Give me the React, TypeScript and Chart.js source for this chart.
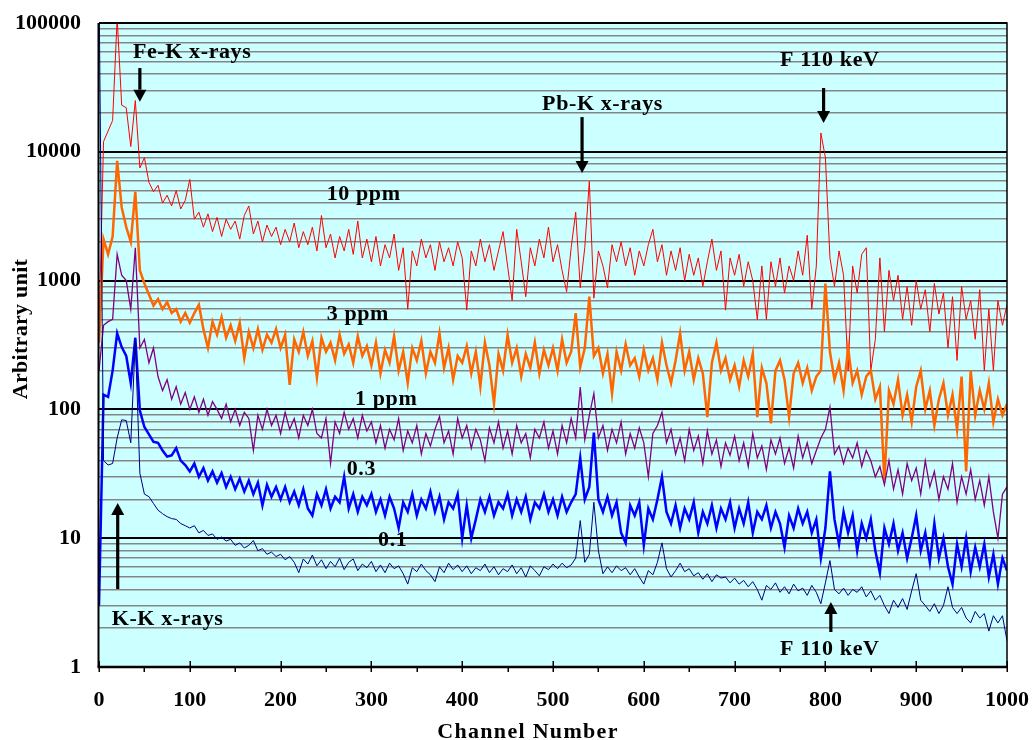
import { useEffect, useRef } from 'react';
import { Chart, registerables } from 'chart.js';

Chart.register(...registerables);

const FONT = '"Liberation Serif", "Times New Roman", serif';

// channel numbers (x categories), every 5th channel
const channels = Array.from({ length: 201 }, (_, i) => i * 5);

const ppm10 = [
  400, 12000, 14500, 17500, 110000, 23000, 22000, 11000, 25000, 7500, 9000, 5800, 4900, 5500, 4000, 4600, 3800, 5000, 3600, 4200,
  6100, 3000, 3400, 2600, 3300, 2400, 3100, 2200, 3000, 2500, 2900, 2100, 3200, 3800, 2300, 2900, 2000, 2700, 2200, 2600,
  1900, 2500, 2000, 2800, 1800, 2400, 1900, 2600, 1700, 3200, 1800, 2300, 1500, 2200, 1700, 2500, 1600, 2900, 1500, 2100,
  1400, 2200, 1300, 1900, 1500, 2300, 1200, 1800, 600, 1700, 1300, 2100, 1500, 1900, 1200, 2000, 1400, 1800, 1300, 2000,
  1500, 590, 1700, 1300, 2100, 1400, 1900, 1200, 1700, 2400, 1300, 700, 2500, 1400, 750, 1800, 1300, 2100, 1500, 2600,
  1400, 1900, 1200, 820, 1800, 3400, 880, 1800, 5900, 730, 1700, 1300, 880, 1900, 1400, 2000, 1300, 1800, 1100, 1700,
  1300, 1900, 2500, 1400, 1900, 1100, 1700, 1200, 1800, 1000, 1600, 1100, 1500, 900, 1400, 2100, 1200, 1700, 590, 1500,
  1100, 1600, 900, 1400, 1000, 500, 1300, 500, 1400, 900, 1500, 800, 1300, 1000, 1700, 1100, 2250, 600, 1300, 14000,
  9000, 1500, 900, 1700, 1100, 200, 1300, 800, 1600, 1800, 200, 350, 1500, 400, 1200, 700, 1100, 500, 900, 450,
  1000, 600, 850, 400, 950, 550, 800, 300, 750, 240, 900, 500, 700, 350, 850, 200, 600, 200, 700, 450,
  650,
];

const ppm3 = [
  330, 2100, 1600, 2200, 8500, 3700, 2600, 2000, 4900, 1200, 950, 780, 640, 720, 600, 680, 560, 600, 480, 560,
  470, 560, 650, 420, 300, 480, 380, 520, 360, 450, 340, 470, 250, 400, 300, 420, 290, 380, 330, 420,
  300, 380, 155, 350, 280, 400, 260, 340, 177, 360, 280, 330, 240, 380, 270, 320, 230, 370, 260, 310,
  220, 330, 190, 290, 230, 370, 200, 280, 160, 300, 240, 340, 190, 280, 230, 390, 210, 300, 170, 260,
  230, 310, 190, 280, 150, 330, 220, 111, 270, 200, 380, 230, 300, 180, 270, 210, 330, 190, 290, 220,
  300, 200, 350, 230, 280, 560, 213, 300, 750, 260, 300, 190, 270, 133, 280, 200, 320, 220, 250, 180,
  290, 200, 250, 170, 330, 220, 160, 240, 390, 200, 280, 170, 250, 190, 87, 230, 330, 200, 250, 170,
  220, 150, 240, 180, 270, 87, 210, 160, 78, 200, 240, 170, 87, 190, 230, 160, 210, 140, 180, 200,
  950, 280, 170, 230, 140, 300, 160, 200, 130, 180, 200, 120, 150, 28, 140, 110, 170, 90, 130, 80,
  150, 200, 100, 140, 75, 120, 160, 90, 130, 70, 180, 33, 200, 90, 140, 100, 160, 80, 120, 90,
  110,
];

const ppm1 = [
  200, 450, 480, 500, 1600, 1100, 1000, 600, 1800, 300, 350, 230, 300, 180, 140, 170, 120, 150, 110, 135,
  100, 125, 95, 120, 90, 115, 100, 85, 110, 80, 100, 75, 95, 85, 48, 90, 70, 100, 75, 90,
  65, 95, 70, 85, 60, 90, 75, 100, 65, 60, 85, 38, 80, 65, 95, 70, 85, 60, 90, 68,
  80, 55, 75, 50, 70, 58, 85, 48, 68, 55, 75, 45, 65, 52, 70, 88, 55, 68, 45, 85,
  60, 75, 50, 70, 58, 40, 72, 55, 80, 50, 68, 45, 75, 55, 65, 42, 70, 60, 80, 50,
  68, 45, 75, 55, 85, 60, 149, 58, 90, 133, 60, 75, 48, 70, 55, 80, 45, 65, 50, 72,
  55, 30, 65, 75, 95, 55, 70, 45, 60, 40, 70, 48, 62, 38, 68, 45, 58, 36, 55, 44,
  62, 40, 55, 36, 65, 42, 52, 34, 58, 45, 60, 38, 50, 35, 62, 42, 55, 38, 48, 60,
  70, 104, 45, 52, 38, 50, 42, 55, 36, 48, 40, 30, 36, 26, 40, 24, 34, 22, 38, 28,
  35, 22, 40, 25, 33, 20, 30, 24, 38, 19, 30, 22, 34, 20, 28, 18, 30, 16, 10, 22,
  25,
];

const ppm03 = [
  3, 130, 125, 200, 390, 305, 260, 160, 360, 98, 73, 64, 56, 55, 48, 43, 44, 50, 40, 37,
  33, 38, 30, 35, 28, 33, 27, 32, 25, 30, 24, 29, 23, 28, 22, 27, 18, 26, 21, 25,
  20, 25, 19, 23, 18, 24, 17, 15, 22, 18, 24, 17, 21, 19, 30, 17, 22, 16, 21, 18,
  22, 16, 20, 15, 21, 17, 12, 19, 16, 22, 15, 20, 17, 23, 16, 21, 14, 19, 17, 22,
  10, 18, 10, 14, 20, 16, 21, 15, 19, 17, 22, 15, 20, 16, 21, 14, 19, 17, 22, 16,
  20, 15, 21, 16, 19, 22, 42, 20, 25, 66, 20, 16, 21, 15, 19, 11, 9.2, 18, 15, 19,
  8.8, 17, 14, 20, 30, 16, 13, 18, 12, 17, 14, 19, 11, 16, 13, 18, 12, 17, 14, 19,
  12, 17, 13, 19, 11, 16, 14, 18, 12, 16, 13, 8.5, 15, 12, 17, 13, 16, 11, 14, 7,
  12, 33, 14, 9, 16, 11, 15, 8, 13, 10, 14, 8, 5.4, 12, 9, 13, 8, 11, 7, 10,
  15, 8, 11, 6.5, 13, 7, 10, 6, 4.4, 9, 6, 10, 5.5, 8.5, 6, 9, 5, 7.5, 4.4, 7,
  5.6,
];

const ppm01 = [
  200000, 40, 37, 38, 60, 83, 82, 55, 340, 32, 22, 21, 18.6, 16.5, 15.5, 14.7, 14.2, 14, 13, 12.5,
  12, 12.5, 11, 11.5, 10.5, 10.8, 9.8, 10.2, 9.5, 9.8, 8.8, 9.2, 8.4, 8.8, 9.6, 8.0, 8.3, 7.5, 7.8, 7.2,
  7.5, 6.8, 7.2, 6.5, 5.4, 6.9, 6.3, 7.4, 6.1, 6.8, 5.8, 6.6, 6.0, 7.0, 5.7, 6.5, 6.9, 5.6, 6.3, 5.9,
  6.6, 5.5, 6.2, 5.4, 6.4, 5.8, 6.1, 5.3, 4.4, 5.9, 5.5, 6.3, 5.6, 5.2, 4.6, 6.0, 5.4, 6.4, 5.7, 6.2,
  5.5, 6.1, 5.3, 5.9, 5.6, 6.3, 5.4, 6.0, 5.2, 5.8, 5.5, 6.2, 5.3, 5.9, 5.0, 6.1, 5.6, 5.1, 6.0, 5.7,
  6.3, 5.8, 6.4, 5.9, 6.2, 7.0, 13.7, 6.5, 7.5, 19, 8, 5.3, 6.0, 5.4, 6.1, 5.6, 5.9, 5.2, 5.8, 5.0,
  4.4, 5.6, 5.2, 6.5, 9.2, 5.8, 5.0, 5.6, 6.4, 5.5, 5.8, 5.1, 5.4, 4.8, 5.3, 4.6, 5.2, 4.9, 5.0, 4.5,
  4.9, 4.4, 4.7, 4.2, 4.6, 4.0, 3.3, 4.3, 4.0, 4.5, 3.8, 4.2, 3.7, 4.4, 3.9, 4.1, 3.6, 4.3, 3.8, 3.1,
  4.5, 6.7, 4.0, 3.7, 4.1, 3.6, 4.0, 3.8, 4.2, 3.5, 3.9, 3.3, 3.6, 3.0, 2.6, 3.3, 2.9, 3.4, 2.8, 3.9,
  5.3, 3.3, 3.0, 2.7, 3.1, 2.6, 3.0, 4.2, 2.9, 2.6, 2.9, 2.4, 2.2, 2.7, 2.4, 2.6, 1.9, 2.5, 2.2, 2.5,
  1.6,
];

const xTickValues = [0, 50, 100, 150, 200, 250, 300, 350, 400, 450, 500, 550, 600, 650, 700, 750, 800, 850, 900, 950, 1000];
const yTickValues = [
  1, 2, 3, 4, 5, 6, 7, 8, 9,
  10, 20, 30, 40, 50, 60, 70, 80, 90,
  100, 200, 300, 400, 500, 600, 700, 800, 900,
  1000, 2000, 3000, 4000, 5000, 6000, 7000, 8000, 9000,
  10000, 20000, 30000, 40000, 50000, 60000, 70000, 80000, 90000,
  100000,
];

// text annotations, placed in data coordinates (channel, value) = left end of baseline
const noteTexts = ['Fe-K x-rays', 'Pb-K x-rays', 'F 110 keV', '10 ppm', '3 ppm', '1 ppm', '0.3', '0.1', 'K-K x-rays', 'F 110 keV'];
const noteChannels = [37.4, 488, 750, 250.8, 250.8, 282, 272.8, 307.3, 14, 750];
const noteValues = [53200, 21100, 46400, 4230, 494, 108, 31, 8.7, 2.12, 1.24];

// arrows: channel, tail value, tip value
const arrowChannels = [45, 532, 798, 20.6, 806];
const arrowTails = [44700, 18600, 31300, 4.03, 1.87];
const arrowTips = [24500, 6840, 16700, 18.8, 3.2];

const isPow10 = (v: number) => Math.abs(Math.log10(v) - Math.round(Math.log10(v))) < 1e-9;

const decor = {
  id: 'decor',
  beforeDraw(chart: any) {
    const { ctx, chartArea: a } = chart;
    ctx.save();
    ctx.fillStyle = '#ffffff';
    ctx.fillRect(0, 0, chart.width, chart.height);
    ctx.fillStyle = '#CCFFFF';
    ctx.fillRect(a.left, a.top, a.right - a.left, a.bottom - a.top);
    ctx.restore();
  },
  afterDraw(chart: any) {
    const { ctx, chartArea: a, scales } = chart;
    const xs = scales.x;
    const ys = scales.y;
    ctx.save();
    ctx.strokeStyle = '#000';
    ctx.fillStyle = '#000';
    // top and right frame
    ctx.lineWidth = 1.5;
    ctx.beginPath();
    ctx.moveTo(a.left, a.top);
    ctx.lineTo(a.right, a.top);
    ctx.lineTo(a.right, a.bottom);
    ctx.stroke();
    // left axis
    ctx.lineWidth = 2;
    ctx.beginPath();
    ctx.moveTo(a.left - 0.5, a.top);
    ctx.lineTo(a.left - 0.5, a.bottom);
    ctx.stroke();
    // bottom axis
    ctx.lineWidth = 2.5;
    ctx.beginPath();
    ctx.moveTo(a.left - 1.5, a.bottom);
    ctx.lineTo(a.right, a.bottom);
    ctx.stroke();
    // x tick marks
    ctx.lineWidth = 1.5;
    for (const t of xTickValues) {
      const px = Math.round(xs.getPixelForValue(t)) + 0.25;
      const major = t % 100 === 0;
      ctx.beginPath();
      ctx.moveTo(px, major ? a.bottom - 6 : a.bottom);
      ctx.lineTo(px, a.bottom + 5);
      ctx.stroke();
    }
    // annotations text
    ctx.font = `bold 22px ${FONT}`;
    ctx.textAlign = 'left';
    ctx.textBaseline = 'alphabetic';
    (ctx as any).letterSpacing = '0.6px';
    noteTexts.forEach((t, i) => {
      ctx.fillText(t, xs.getPixelForValue(noteChannels[i]), ys.getPixelForValue(noteValues[i]));
    });
    // arrows
    arrowChannels.forEach((ch, i) => {
      const x = xs.getPixelForValue(ch);
      const y0 = ys.getPixelForValue(arrowTails[i]);
      const y1 = ys.getPixelForValue(arrowTips[i]);
      const dir = Math.sign(y1 - y0);
      const headLen = 12;
      const half = 6.5;
      ctx.lineWidth = 3.2;
      ctx.beginPath();
      ctx.moveTo(x, y0);
      ctx.lineTo(x, y1 - dir * headLen);
      ctx.stroke();
      ctx.beginPath();
      ctx.moveTo(x, y1);
      ctx.lineTo(x - half, y1 - dir * headLen);
      ctx.lineTo(x + half, y1 - dir * headLen);
      ctx.closePath();
      ctx.fill();
    });
    // axis titles
    (ctx as any).letterSpacing = '1.3px';
    ctx.textAlign = 'center';
    ctx.fillText('Channel Number', 528, 738);
    (ctx as any).letterSpacing = '0.3px';
    ctx.translate(27, 329);
    ctx.rotate(-Math.PI / 2);
    ctx.fillText('Arbitrary unit', 0, 0);
    ctx.restore();
  },
};

export default function App() {
  const ref = useRef<HTMLCanvasElement>(null);
  useEffect(() => {
    document.body.style.margin = '0';
    const mk = (arr: number[]) => arr.map((v, i) => ({ x: channels[i], y: v }));
    const tickFont = { family: FONT, size: 22, weight: 'bold' as const };
    const chart = new Chart(ref.current!, {
      type: 'line',
      data: {
        datasets: [
          { label: '0.1', data: mk(ppm01), borderColor: '#000080', borderWidth: 1, pointRadius: 0, tension: 0 },
          { label: '0.3', data: mk(ppm03), borderColor: '#0000FF', borderWidth: 2.5, pointRadius: 0, tension: 0 },
          { label: '1 ppm', data: mk(ppm1), borderColor: '#800080', borderWidth: 1.3, pointRadius: 0, tension: 0 },
          { label: '3 ppm', data: mk(ppm3), borderColor: '#FF6600', borderWidth: 2.5, pointRadius: 0, tension: 0 },
          { label: '10 ppm', data: mk(ppm10), borderColor: '#FF0000', borderWidth: 1, pointRadius: 0, tension: 0 },
        ],
      },
      options: {
        responsive: false,
        maintainAspectRatio: false,
        animation: false,
        devicePixelRatio: 1,
        layout: { padding: { top: 23, right: 25, left: 0, bottom: 0 } },
        plugins: { legend: { display: false }, tooltip: { enabled: false }, title: { display: false } },
        events: [],
        scales: {
          x: {
            type: 'linear',
            min: 0,
            max: 1000,
            afterBuildTicks: (s: any) => {
              s.ticks = xTickValues.map((v) => ({ value: v }));
            },
            afterFit: (s: any) => {
              s.height = 73;
              s.paddingLeft = 0;
              s.paddingRight = 0;
              s.paddingTop = 0;
              s.paddingBottom = 0;
            },
            grid: { display: false, drawTicks: false },
            border: { display: false },
            ticks: {
              autoSkip: false,
              maxRotation: 0,
              padding: 20,
              color: '#000',
              font: tickFont,
              callback: (v: any) => (Number(v) % 100 === 0 ? String(v) : ''),
            },
          },
          y: {
            type: 'logarithmic',
            min: 1,
            max: 100000,
            afterBuildTicks: (s: any) => {
              s.ticks = yTickValues.map((v) => ({ value: v }));
            },
            afterFit: (s: any) => {
              s.width = 99;
              s.paddingLeft = 0;
              s.paddingRight = 0;
              s.paddingTop = 0;
              s.paddingBottom = 0;
            },
            grid: {
              drawTicks: false,
              color: (c: any) => (isPow10(c.tick.value) ? '#000000' : '#858585'),
              lineWidth: (c: any) => (isPow10(c.tick.value) ? 2 : 1.6),
            },
            border: { display: false },
            ticks: {
              autoSkip: false,
              padding: 18,
              color: '#000',
              font: tickFont,
              callback: (v: any) => (isPow10(Number(v)) ? String(v) : ''),
            },
          },
        },
      },
      plugins: [decor],
    });
    return () => chart.destroy();
  }, []);
  return (
    <div style={{ width: 1032, height: 740, position: 'relative' }}>
      <canvas ref={ref} width={1032} height={740} style={{ display: 'block', width: 1032, height: 740 }} />
    </div>
  );
}
